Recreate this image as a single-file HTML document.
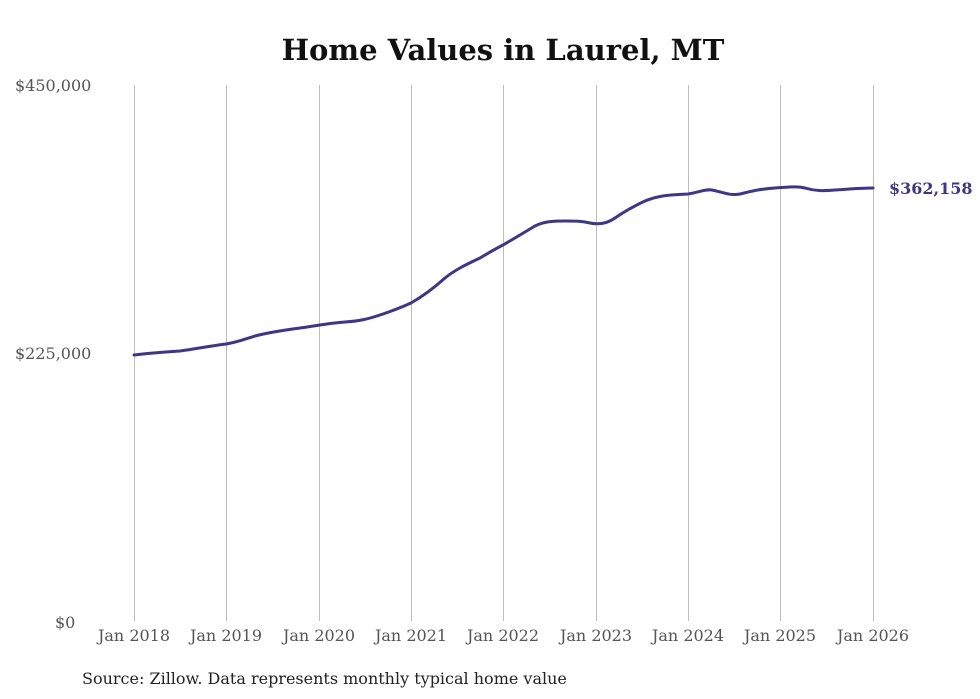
<!DOCTYPE html>
<html><head><meta charset="utf-8"><style>
html,body{margin:0;padding:0;background:#fff;}
svg{display:block;}
</style></head><body>
<svg width="980" height="699" xmlns="http://www.w3.org/2000/svg" font-family="'DejaVu Serif','Liberation Serif',serif">
<rect width="980" height="699" fill="#fff"/>
<text x="503" y="60" text-anchor="middle" font-size="29" font-weight="bold" fill="#111">Home Values in Laurel, MT</text>
<g stroke="#bdbdbd" stroke-width="1">
<line x1="134.5" y1="85" x2="134.5" y2="621"/>
<line x1="226.5" y1="85" x2="226.5" y2="621"/>
<line x1="319.5" y1="85" x2="319.5" y2="621"/>
<line x1="411.5" y1="85" x2="411.5" y2="621"/>
<line x1="503.5" y1="85" x2="503.5" y2="621"/>
<line x1="596.5" y1="85" x2="596.5" y2="621"/>
<line x1="688.5" y1="85" x2="688.5" y2="621"/>
<line x1="780.5" y1="85" x2="780.5" y2="621"/>
<line x1="873.5" y1="85" x2="873.5" y2="621"/>
</g>
<g font-size="16" fill="#555">
<text x="15" y="91">$450,000</text>
<text x="15" y="359">$225,000</text>
<text x="55" y="628">$0</text>
</g>
<g font-size="16" fill="#555" text-anchor="middle">
<text x="134" y="641">Jan 2018</text>
<text x="226" y="641">Jan 2019</text>
<text x="319" y="641">Jan 2020</text>
<text x="411" y="641">Jan 2021</text>
<text x="503" y="641">Jan 2022</text>
<text x="596" y="641">Jan 2023</text>
<text x="688" y="641">Jan 2024</text>
<text x="780" y="641">Jan 2025</text>
<text x="873" y="641">Jan 2026</text>
</g>
<path fill="none" stroke="#3d3590" stroke-width="3" stroke-linejoin="round" stroke-linecap="round"
d="M134,355 C150,353 165,352 180,351 C195,349 210,346 226,344 C238,342 245,339 255,336 C270,332 285,330 300,328 C315,326 330,323 345,322 C360,321 368,319 380,315 C392,311 400,308 411,303 C425,295 435,287 445,278 C455,270 465,265 480,258 C490,252 497,248 503,245 C515,238 525,232 535,226 C545,221 555,221 565,221 C575,221 582,221 590,223 C600,225 608,223 615,218 C625,211 632,207 645,201 C660,195 670,195 688,194 C700,192 705,189 712,190 C722,192 730,196 740,194 C752,191 760,189 775,188 C790,187 797,186 805,188 C815,191 823,191 835,190 C850,189 860,188 873,188"/>
<text x="889" y="194" font-size="16" font-weight="bold" fill="#3d3590">$362,158</text>
<text x="82" y="684" font-size="16" fill="#222">Source: Zillow. Data represents monthly typical home value</text>
</svg>
</body></html>
